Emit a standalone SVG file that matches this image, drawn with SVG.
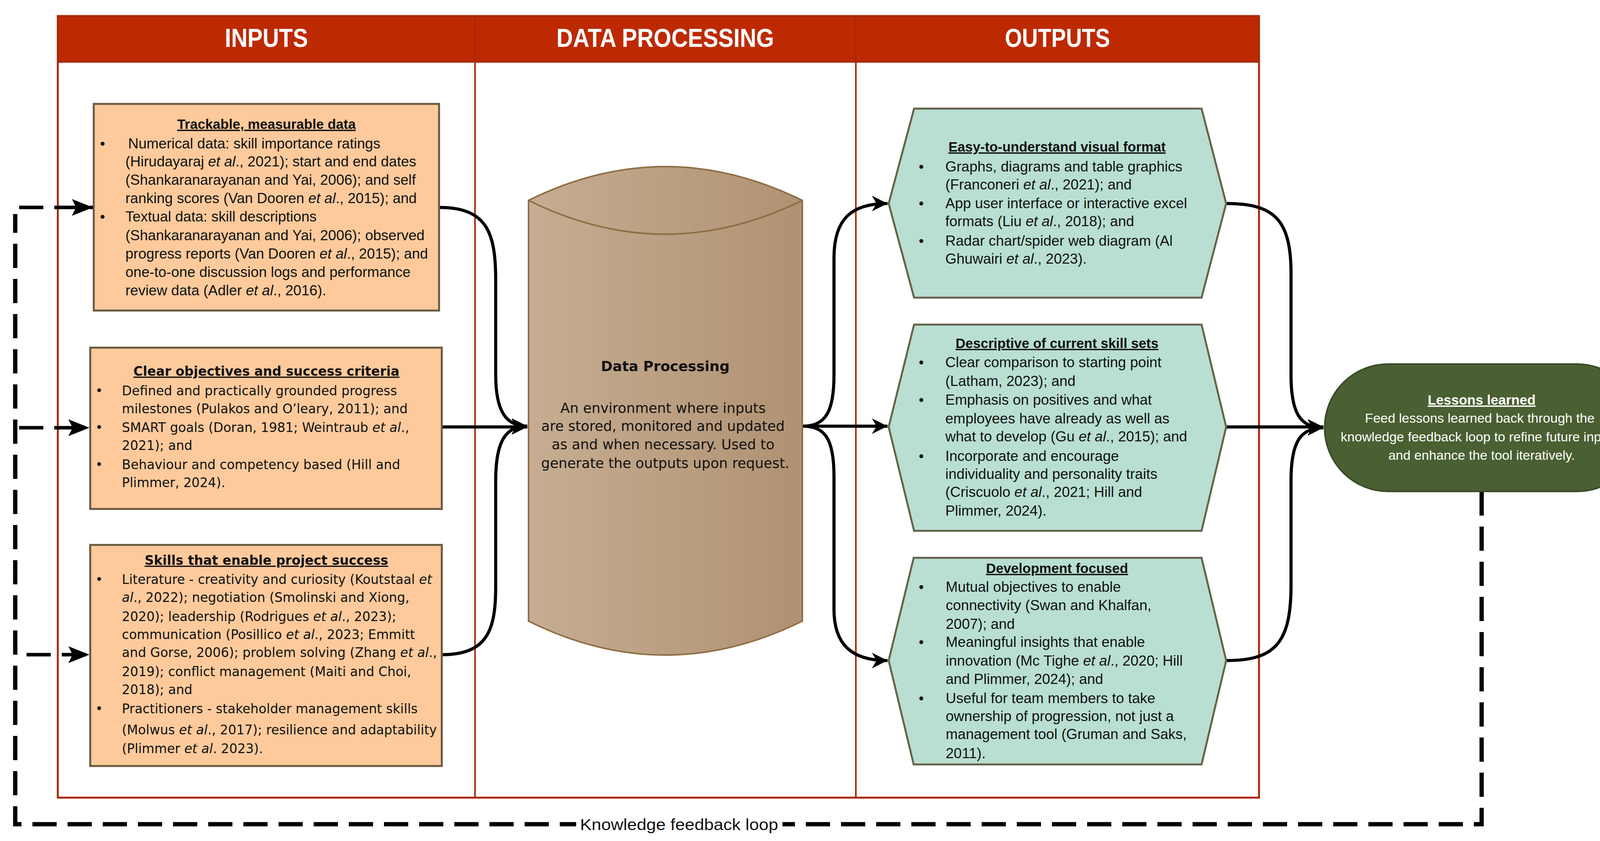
<svg xmlns="http://www.w3.org/2000/svg" width="4226" height="2153" viewBox="0 0 4226 2153">
<style>
.n{font-family:"Liberation Sans",Arial,sans-serif;font-size:37px;fill:#111}
.v{font-family:"DejaVu Sans",Verdana,sans-serif;font-size:33px;fill:#111}
.t{text-decoration:underline;font-weight:bold;text-anchor:middle}
.n.t{font-size:35px}
.hd{font-family:"Liberation Sans",Arial,sans-serif;font-size:66px;font-weight:bold;fill:#fff;text-anchor:middle}
.i{font-style:italic}
.box{fill:#FECA9C;stroke:#66593F;stroke-width:5}
.hex{fill:#B8DFD2;stroke:#66634A;stroke-width:5}
.con{fill:none;stroke:#000;stroke-width:8}
.dash{fill:none;stroke:#000;stroke-width:11;stroke-dasharray:62 28}
.w{fill:#fff}
</style>
<defs>
<marker id="ah" viewBox="0 0 10 10" refX="10" refY="5" markerWidth="5" markerHeight="5" markerUnits="strokeWidth" orient="auto">
<path d="M0,0 L10,5 L0,10 L3,5 Z" fill="#000"/>
</marker>
<marker id="ah2" viewBox="0 0 10 10" refX="10" refY="5" markerWidth="8" markerHeight="6" markerUnits="strokeWidth" orient="auto">
<path d="M0,1 L10,5 L0,9 L2,5 Z" fill="#000"/>
</marker>
<linearGradient id="cyl" x1="0" x2="1" y1="0" y2="0">
<stop offset="0" stop-color="#C6AD92"/>
<stop offset="1" stop-color="#B09272"/>
</linearGradient>
</defs>
<rect width="4226" height="2153" fill="#fff"/>
<g id="frame">
<rect x="148" y="41" width="3075" height="117" fill="#BD2A02"/>
<rect x="148" y="41" width="3075" height="2001" fill="none" stroke="#A8280A" stroke-width="5"/>
<line x1="148" y1="158" x2="3223" y2="158" stroke="#A8280A" stroke-width="5"/>
<line x1="1216" y1="41" x2="1216" y2="2042" stroke="#A8280A" stroke-width="4"/>
<line x1="2191" y1="41" x2="2191" y2="2042" stroke="#A8280A" stroke-width="4"/>
<text class="hd" x="682" y="120" textLength="213" lengthAdjust="spacingAndGlyphs">INPUTS</text>
<text class="hd" x="1703" y="120" textLength="557" lengthAdjust="spacingAndGlyphs">DATA PROCESSING</text>
<text class="hd" x="2707" y="120" textLength="269" lengthAdjust="spacingAndGlyphs">OUTPUTS</text>
</g>
<g id="connectors">
<path class="dash" d="M3793,1258 V2110 H39 V548"/>
<path class="dash" d="M49,531 H238" marker-end="url(#ah2)" style="stroke-width:9"/>
<path class="dash" d="M49,1095 H229" marker-end="url(#ah2)" style="stroke-width:9"/>
<path class="dash" d="M68,1676 H229" marker-end="url(#ah2)" style="stroke-width:9"/>
<path class="con" d="M1124,531 C1250,531 1269,600 1269,720 L1269,960 C1269,1060 1300,1091 1350,1091" marker-end="url(#ah)"/>
<path class="con" d="M1131,1093 H1350" marker-end="url(#ah)"/>
<path class="con" d="M1131,1676 C1250,1676 1269,1610 1269,1500 L1269,1230 C1269,1120 1300,1091 1350,1091" marker-end="url(#ah)"/>
<path class="con" d="M2054,1091 C2110,1091 2135,1060 2135,960 L2135,660 C2135,560 2180,521 2272,521" marker-end="url(#ah)"/>
<path class="con" d="M2054,1091 H2272" marker-end="url(#ah)"/>
<path class="con" d="M2054,1091 C2110,1091 2135,1120 2135,1220 L2135,1560 C2135,1650 2180,1691 2272,1691" marker-end="url(#ah)"/>
<path class="con" d="M3139,521 C3260,521 3305,560 3305,700 L3305,960 C3305,1060 3330,1095 3388,1095" marker-end="url(#ah)"/>
<path class="con" d="M3139,1093 H3388" marker-end="url(#ah)"/>
<path class="con" d="M3139,1691 C3260,1691 3305,1650 3305,1500 L3305,1230 C3305,1130 3330,1095 3388,1095" marker-end="url(#ah)"/>
<rect x="1475" y="2085" width="528" height="50" fill="#fff"/>
<text class="n" x="1485" y="2125" style="font-size:40px" textLength="507" lengthAdjust="spacingAndGlyphs">Knowledge feedback loop</text>
</g>
<g id="box-trackable">
<rect class="box" x="240" y="266" width="884" height="529"/>
<text class="n t" x="682" y="330">Trackable, measurable data</text>
<text class="n"><tspan x="256" y="380">•</tspan><tspan x="328">Numerical data: skill importance ratings</tspan>
<tspan x="321" y="426">(Hirudayaraj <tspan class="i">et al</tspan>., 2021); start and end dates</tspan>
<tspan x="321" y="473">(Shankaranarayanan and Yai, 2006); and self</tspan>
<tspan x="321" y="520">ranking scores (Van Dooren <tspan class="i">et al</tspan>., 2015); and</tspan>
<tspan x="256" y="567">•</tspan><tspan x="321">Textual data: skill descriptions</tspan>
<tspan x="321" y="615">(Shankaranarayanan and Yai, 2006); observed</tspan>
<tspan x="321" y="662">progress reports (Van Dooren <tspan class="i">et al</tspan>., 2015); and</tspan>
<tspan x="321" y="709">one-to-one discussion logs and performance</tspan>
<tspan x="321" y="756">review data (Adler <tspan class="i">et al</tspan>., 2016).</tspan></text>
</g>
<g id="box-objectives">
<rect class="box" x="231" y="890" width="900" height="413"/>
<text class="v t" x="682" y="962">Clear objectives and success criteria</text>
<text class="v"><tspan x="244" y="1012">•</tspan><tspan x="312">Defined and practically grounded progress</tspan>
<tspan x="312" y="1058">milestones (Pulakos and O’leary, 2011); and</tspan>
<tspan x="244" y="1106">•</tspan><tspan x="312">SMART goals (Doran, 1981; Weintraub <tspan class="i">et al</tspan>.,</tspan>
<tspan x="312" y="1152">2021); and</tspan>
<tspan x="244" y="1201">•</tspan><tspan x="312">Behaviour and competency based (Hill and</tspan>
<tspan x="312" y="1247">Plimmer, 2024).</tspan></text>
</g>
<g id="box-skills">
<rect class="box" x="231" y="1395" width="900" height="566"/>
<text class="v t" x="682" y="1446">Skills that enable project success</text>
<text class="v"><tspan x="244" y="1495">•</tspan><tspan x="312">Literature - creativity and curiosity (Koutstaal <tspan class="i">et</tspan></tspan>
<tspan x="312" y="1541"><tspan class="i">al</tspan>., 2022); negotiation (Smolinski and Xiong,</tspan>
<tspan x="312" y="1590">2020); leadership (Rodrigues <tspan class="i">et al</tspan>., 2023);</tspan>
<tspan x="312" y="1636">communication (Posillico <tspan class="i">et al</tspan>., 2023; Emmitt</tspan>
<tspan x="312" y="1682">and Gorse, 2006); problem solving (Zhang <tspan class="i">et al</tspan>.,</tspan>
<tspan x="312" y="1731">2019); conflict management (Maiti and Choi,</tspan>
<tspan x="312" y="1777">2018); and</tspan>
<tspan x="244" y="1826">•</tspan><tspan x="312">Practitioners -  stakeholder management skills</tspan>
<tspan x="312" y="1880">(Molwus <tspan class="i">et al</tspan>., 2017); resilience and adaptability</tspan>
<tspan x="312" y="1928">(Plimmer <tspan class="i">et al</tspan>. 2023).</tspan></text>
</g>
<g id="data-processing">
<path d="M1353,513 Q1703,340 2054,513 L2054,1590 Q1703,1764 1353,1590 Z" fill="url(#cyl)" stroke="#8E6E44" stroke-width="4"/>
<path d="M1353,513 Q1703,686 2054,513" fill="none" stroke="#8E6E44" stroke-width="4"/>
<text class="v" x="1703" y="950" text-anchor="middle" style="font-size:36px;font-weight:bold">Data Processing</text>
<text class="v" text-anchor="middle" style="font-size:35.5px"><tspan x="1703" y="1057">An environment where inputs</tspan>
<tspan x="1703" y="1103">are stored, monitored and updated</tspan>
<tspan x="1703" y="1150">as and when necessary. Used to</tspan>
<tspan x="1703" y="1198">generate the outputs upon request.</tspan></text>
</g>
<g id="out-visual">
<polygon class="hex" points="2340,278 3076,278 3139,521 3076,762 2340,762 2275,521"/>
<text class="n t" x="2706" y="388">Easy-to-understand visual format</text>
<text class="n"><tspan x="2352" y="439">•</tspan><tspan x="2420">Graphs, diagrams and table graphics</tspan>
<tspan x="2420" y="485">(Franconeri <tspan class="i">et al</tspan>., 2021); and</tspan>
<tspan x="2352" y="533">•</tspan><tspan x="2420">App user interface or interactive excel</tspan>
<tspan x="2420" y="579">formats (Liu <tspan class="i">et al</tspan>., 2018); and</tspan>
<tspan x="2352" y="629">•</tspan><tspan x="2420">Radar chart/spider web diagram (Al</tspan>
<tspan x="2420" y="675">Ghuwairi <tspan class="i">et al</tspan>., 2023).</tspan></text>
</g>
<g id="out-descriptive">
<polygon class="hex" points="2340,831 3076,831 3139,1093 3076,1359 2340,1359 2275,1093"/>
<text class="n t" x="2706" y="891">Descriptive of current skill sets</text>
<text class="n"><tspan x="2352" y="940">•</tspan><tspan x="2420">Clear comparison to starting point</tspan>
<tspan x="2420" y="988">(Latham, 2023); and</tspan>
<tspan x="2352" y="1036">•</tspan><tspan x="2420">Emphasis on positives and what</tspan>
<tspan x="2420" y="1084">employees have already as well as</tspan>
<tspan x="2420" y="1130">what to develop (Gu <tspan class="i">et al</tspan>., 2015); and</tspan>
<tspan x="2352" y="1180">•</tspan><tspan x="2420">Incorporate and encourage</tspan>
<tspan x="2420" y="1226">individuality and personality traits</tspan>
<tspan x="2420" y="1272">(Criscuolo <tspan class="i">et al</tspan>., 2021; Hill and</tspan>
<tspan x="2420" y="1320">Plimmer, 2024).</tspan></text>
</g>
<g id="out-development">
<polygon class="hex" points="2339,1428 3076,1428 3139,1691 3076,1957 2339,1957 2275,1691"/>
<text class="n t" x="2706" y="1467">Development focused</text>
<text class="n"><tspan x="2352" y="1515">•</tspan><tspan x="2421">Mutual objectives to enable</tspan>
<tspan x="2421" y="1562">connectivity (Swan and Khalfan,</tspan>
<tspan x="2421" y="1610">2007); and</tspan>
<tspan x="2352" y="1656">•</tspan><tspan x="2421">Meaningful insights that enable</tspan>
<tspan x="2421" y="1704">innovation (Mc Tighe <tspan class="i">et al</tspan>., 2020; Hill</tspan>
<tspan x="2421" y="1751">and Plimmer, 2024); and</tspan>
<tspan x="2352" y="1800">•</tspan><tspan x="2421">Useful for team members to take</tspan>
<tspan x="2421" y="1846">ownership of progression, not just a</tspan>
<tspan x="2421" y="1892">management tool (Gruman and Saks,</tspan>
<tspan x="2421" y="1941">2011).</tspan></text>
</g>
<g id="lessons">
<rect x="3391" y="932" width="809" height="326" rx="163" fill="#4A5F32" stroke="#3A4A26" stroke-width="4"/>
<text class="n t" x="3793" y="1036" style="fill:#fff">Lessons learned</text>
<text class="n w" text-anchor="middle" style="font-size:34px"><tspan x="3793" y="1082">Feed lessons learned back through the</tspan>
<tspan x="3793" y="1130">knowledge feedback loop to refine future inputs</tspan>
<tspan x="3793" y="1177">and enhance the tool iteratively.</tspan></text>
</g>
</svg>
